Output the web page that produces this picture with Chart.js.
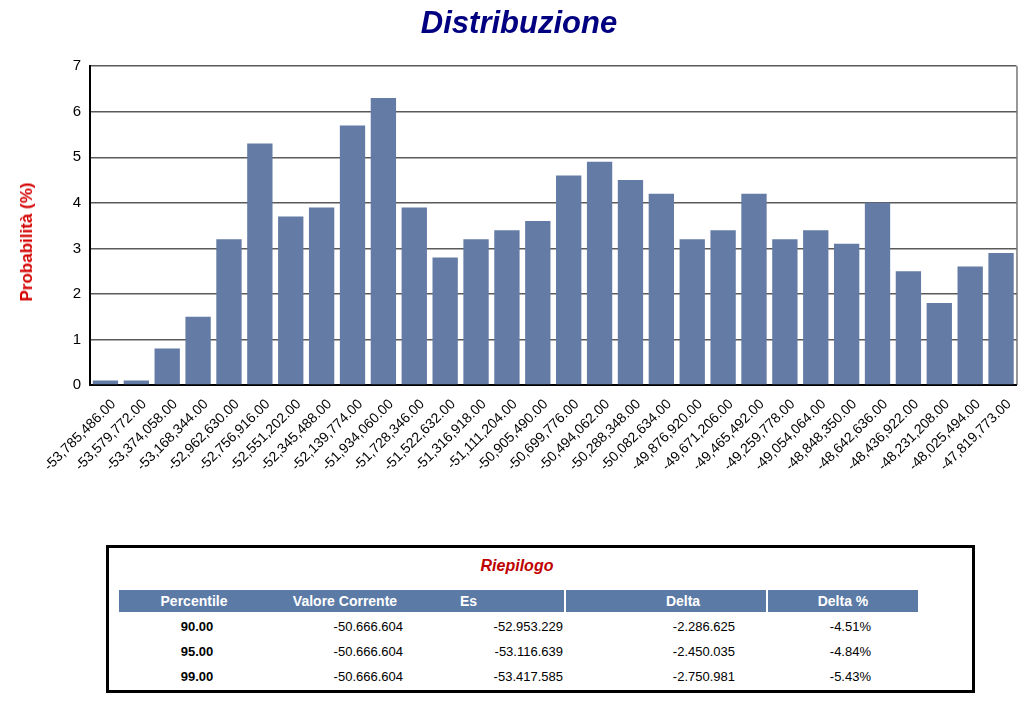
<!DOCTYPE html>
<html>
<head>
<meta charset="utf-8">
<script src="https://cdn.jsdelivr.net/npm/chart.js@4.4.1/dist/chart.umd.min.js"></script>
<style>
  html, body { margin: 0; padding: 0; background: #fff; }
  body { width: 1024px; height: 703px; position: relative; overflow: hidden; font-family: "Liberation Sans", Arial, sans-serif; }
  #chartWrap { position: absolute; left: 0; top: 0; width: 1024px; height: 500px; }
  #ytitle { position: absolute; left: 27px; top: 242px; transform: translate(-50%, -50%) rotate(-90deg); white-space: nowrap; color: #d40000; font-weight: bold; font-size: 17px; line-height: 20px; }
  #box { position: absolute; left: 106px; top: 545px; width: 863px; height: 142px; border: 3px solid #000; }
  .cell { position: absolute; white-space: nowrap; font-size: 13px; color: #000; line-height: 16px; }
  .hdr { position: absolute; top: 590px; height: 22px; background: #5b7aa6; }
  .htxt { position: absolute; top: 593px; color: #fff; font-weight: bold; font-size: 14px; line-height: 16px; white-space: nowrap; }
  #riep { position: absolute; top: 557px; left: 417px; width: 200px; text-align: center; color: #c00000; font-weight: bold; font-style: italic; font-size: 16px; }
</style>
</head>
<body>
<div id="chartWrap"><canvas id="c"></canvas></div>
<div id="ytitle">Probabilità (%)</div>
<div id="box"></div>
<div id="riep">Riepilogo</div>
<div id="table"></div>
<script>
const categories = ["-53,785,486.00","-53,579,772.00","-53,374,058.00","-53,168,344.00","-52,962,630.00","-52,756,916.00","-52,551,202.00","-52,345,488.00","-52,139,774.00","-51,934,060.00","-51,728,346.00","-51,522,632.00","-51,316,918.00","-51,111,204.00","-50,905,490.00","-50,699,776.00","-50,494,062.00","-50,288,348.00","-50,082,634.00","-49,876,920.00","-49,671,206.00","-49,465,492.00","-49,259,778.00","-49,054,064.00","-48,848,350.00","-48,642,636.00","-48,436,922.00","-48,231,208.00","-48,025,494.00","-47,819,773.00"];
const probabilita = [0.1,0.1,0.8,1.5,3.2,5.3,3.7,3.9,5.7,6.3,3.9,2.8,3.2,3.4,3.6,4.6,4.9,4.5,4.2,3.2,3.4,4.2,3.2,3.4,3.1,4.0,2.5,1.8,2.6,2.9];
const yTicks = [0,1,2,3,4,5,6,7];

const tableHeaders = ["Percentile","Valore Corrente","Es","Delta","Delta %"];
const percentili = ["90.00","95.00","99.00"];
const valoreCorrente = ["-50.666.604","-50.666.604","-50.666.604"];
const esValori = ["-52.953.229","-53.116.639","-53.417.585"];
const deltaValori = ["-2.286.625","-2.450.035","-2.750.981"];
const deltaPerc = ["-4.51%","-4.84%","-5.43%"];

// Table layout
const tbl = document.getElementById('table');
function add(cls, text, style) {
  const d = document.createElement('div');
  d.className = cls; d.textContent = text;
  Object.assign(d.style, style);
  tbl.appendChild(d);
}
add('hdr', '', {left: '119px', width: '445px'});
add('hdr', '', {left: '566px', width: '200px'});
add('hdr', '', {left: '768px', width: '150px'});
add('htxt', tableHeaders[0], {left: '119px', width: '150px', textAlign: 'center'});
add('htxt', tableHeaders[1], {left: '270px', width: '150px', textAlign: 'center'});
add('htxt', tableHeaders[2], {left: '460px'});
add('htxt', tableHeaders[3], {left: '583px', width: '200px', textAlign: 'center'});
add('htxt', tableHeaders[4], {left: '768px', width: '150px', textAlign: 'center'});
const rowTops = [619, 644, 669];
for (let i = 0; i < percentili.length; i++) {
  const t = rowTops[i] + 'px';
  add('cell', percentili[i], {top: t, left: '147px', width: '100px', textAlign: 'center', fontWeight: 'bold'});
  add('cell', valoreCorrente[i], {top: t, left: '253px', width: '150px', textAlign: 'right'});
  add('cell', esValori[i], {top: t, left: '413px', width: '150px', textAlign: 'right'});
  add('cell', deltaValori[i], {top: t, left: '585px', width: '150px', textAlign: 'right'});
  add('cell', deltaPerc[i], {top: t, left: '720px', width: '151px', textAlign: 'right'});
}

const rightBorder = {
  id: 'rightBorder',
  afterDatasetsDraw(chart) {
    const {ctx, chartArea} = chart;
    ctx.save();
    ctx.strokeStyle = '#333';
    ctx.lineWidth = 1;
    ctx.beginPath();
    ctx.moveTo(chartArea.right + 0.5, chartArea.top);
    ctx.lineTo(chartArea.right + 0.5, chartArea.bottom);
    ctx.stroke();
    ctx.restore();
  }
};

new Chart(document.getElementById('c'), {
  type: 'bar',
  data: {
    labels: categories,
    datasets: [{
      data: probabilita,
      backgroundColor: '#637ba5',
      borderWidth: 0,
      barPercentage: 0.82,
      categoryPercentage: 1.0
    }]
  },
  plugins: [rightBorder],
  options: {
    responsive: true,
    maintainAspectRatio: false,
    animation: false,
    layout: { padding: { left: 18, right: 4, top: 0, bottom: 15 } },
    plugins: {
      legend: { display: false },
      tooltip: { enabled: false },
      title: {
        display: true,
        text: 'Distribuzione',
        color: '#000080',
        font: { family: '"Liberation Sans", Arial, sans-serif', size: 31, weight: 'bold', style: 'italic' },
        padding: { top: 6, bottom: 23 }
      }
    },
    scales: {
      x: {
        grid: { display: false, drawTicks: false },
        border: { display: true, color: '#000', width: 2 },
        ticks: {
          color: '#000',
          font: { family: '"Liberation Sans", Arial, sans-serif', size: 14 },
          minRotation: 45, maxRotation: 45,
          autoSkip: false,
          padding: 11,
          labelOffset: 8
        },
        afterFit(scale) { scale.height = 100; }
      },
      y: {
        min: 0, max: 7,
        afterBuildTicks(scale) { scale.ticks = yTicks.map(v => ({value: v})); },
        grid: { color: '#5a5a5a', lineWidth: 1.5, drawTicks: false },
        border: { display: true, color: '#000', width: 2 },
        ticks: {
          color: '#000',
          font: { family: '"Liberation Sans", Arial, sans-serif', size: 15 },
          padding: 9
        },
        afterFit(scale) { scale.width = 72; }
      }
    }
  }
});
</script>
</body>
</html>
